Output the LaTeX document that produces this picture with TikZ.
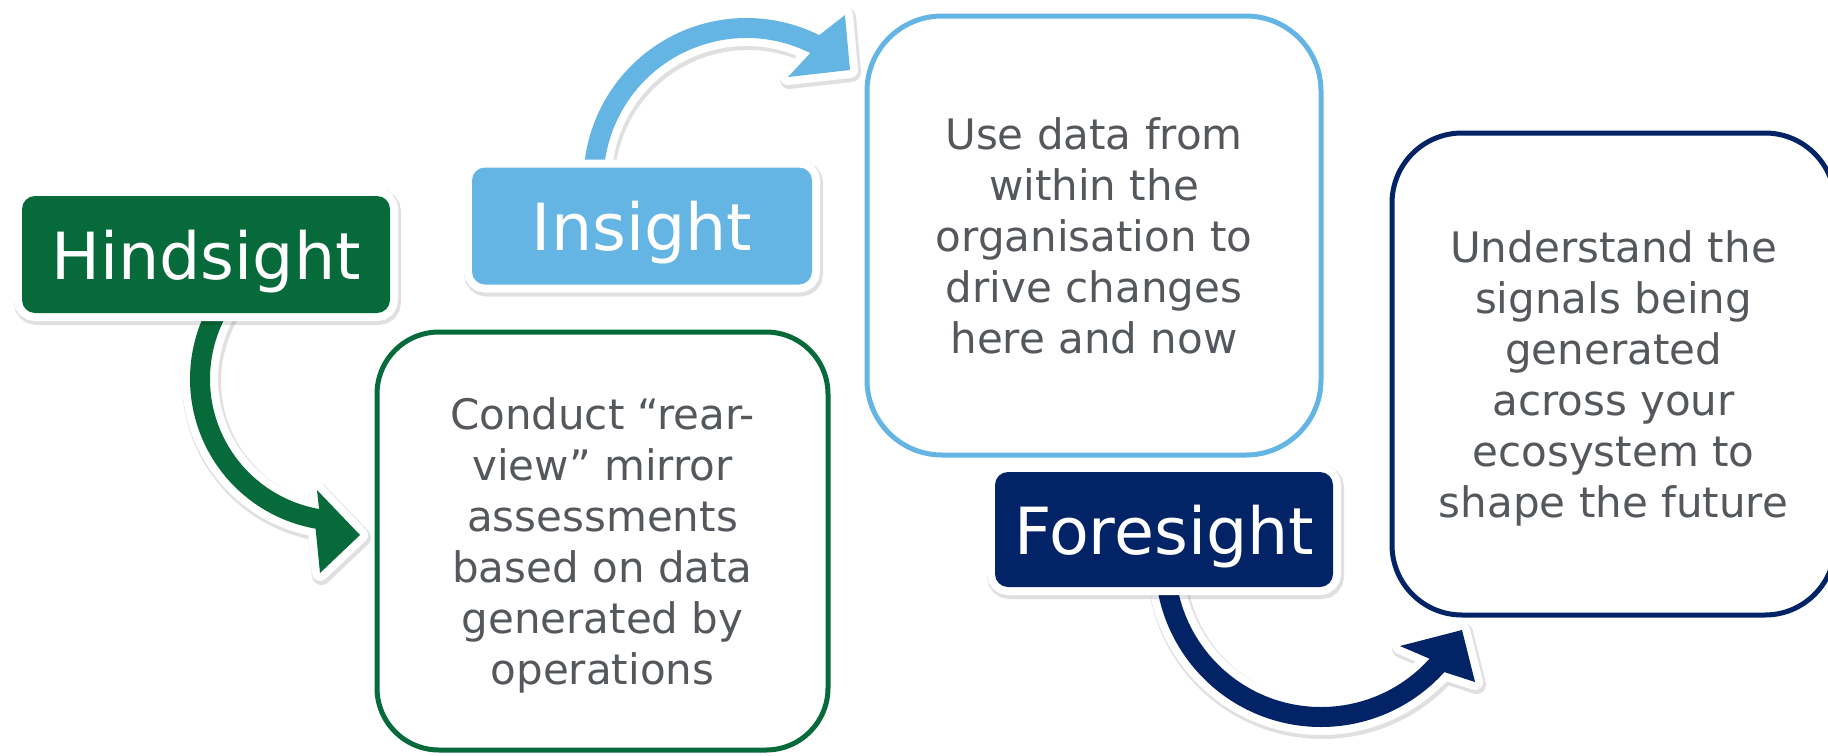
\documentclass[tikz,border=0pt]{standalone}
\usepackage{fontspec}
\setmainfont{DejaVu Sans}
\usetikzlibrary{calc, backgrounds}
\definecolor{hindgreen}{RGB}{7,106,58}
\definecolor{insblue}{RGB}{101,181,228}
\definecolor{forenavy}{RGB}{3,35,103}
\definecolor{bodygrey}{RGB}{84,87,92}
\tikzset{
  tag/.style={
    fill=#1, rounded corners=13pt, inner sep=0pt,
    minimum height=117pt, text=white, text depth=0pt,
    font=\fontsize{65}{78}\selectfont,
    preaction={draw=black, draw opacity=0.12, line width=19pt,
      transform canvas={shift={(1.5pt,-2.5pt)}}},
    preaction={draw=white, line width=16pt}
  },
  panel/.style={
    draw=#1, line width=5pt, rounded corners=70pt,
    fill=white, text=bodygrey, align=center, inner sep=0pt,
    font=\fontsize{42}{51}\selectfont
  },
  band/.style={
    fill=#1, line join=round,
    preaction={draw=black, draw opacity=0.12, line width=19pt, line join=round,
      transform canvas={shift={(1.5pt,-2.5pt)}}},
    preaction={draw=white, line width=16pt, line join=round}
  }
}
% colour, centre, inner r, outer r, start, end, outer barb, tip, inner barb
\newcommand{\bandarrow}[9]{%
  \fill[band=#1] ($(#2)+(#5:#4)$) arc[start angle=#5, end angle=#6, radius=#4]
    -- #7 -- #8 -- #9 -- ($(#2)+(#6:#3)$)
    arc[start angle=#6, end angle=#5, radius=#3] -- cycle;}

\begin{document}
\begin{tikzpicture}[x=1pt, y=1pt]
\useasboundingbox (0,0) rectangle (1828,-755);

\node[tag=hindgreen, minimum width=368pt] (hind) at (206,-254.5) {Hindsight};
\node[tag=insblue, minimum width=340pt] (ins) at (642,-226) {Insight};
\node[tag=forenavy, minimum width=338pt, minimum height=115pt] (fore) at (1164,-529.5) {Foresight};

\node[panel=hindgreen, rounded corners=62pt, text depth=-5pt, minimum width=451pt, minimum height=418pt] (hindtxt) at (602.5,-541)
  {Conduct “rear-\\view” mirror\\assessments\\based on data\\generated by\\operations};
\node[panel=insblue, rounded corners=75pt, minimum width=454pt, minimum height=439pt] (instxt) at (1094,-235.5)
  {Use data from\\within the\\organisation to\\drive changes\\here and now};
\node[panel=forenavy, text depth=0pt, minimum width=443pt, minimum height=482pt] (foretxt) at (1613.5,-374)
  {Understand the\\signals being\\generated\\across your\\ecosystem to\\shape the future};

\coordinate (hc) at (342,-379);
\coordinate (ic) at (746.5,-181);
\coordinate (fc) at (1321,-561);

\begin{scope}[on background layer]
\bandarrow{hindgreen}{hc}{132}{152}{150}{260}{(320,-573)}{(360,-535)}{(317,-490)}
\bandarrow{insblue}{ic}{143}{163}{185}{63.5}{(845,-15)}{(850,-70)}{(788,-77)}
\bandarrow{forenavy}{fc}{146}{166}{175}{318}{(1475,-682)}{(1462,-630)}{(1400,-646)}
\end{scope}

\end{tikzpicture}
\end{document}
